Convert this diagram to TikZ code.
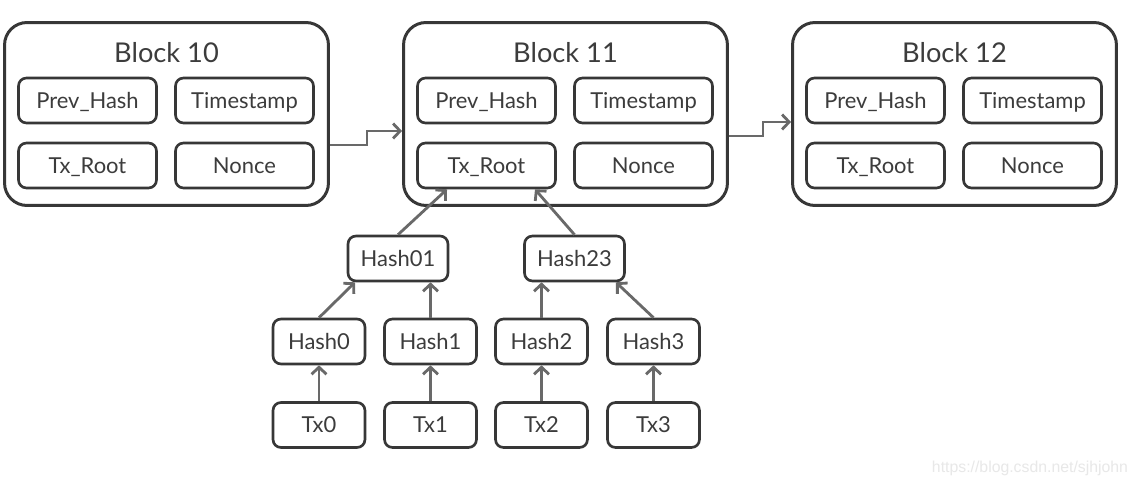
\documentclass[tikz,border=0pt]{standalone}
\usepackage{fontspec}
\setmainfont{Lato}
\newfontfamily\markfont{Liberation Sans}
\usepackage{tikz}
\usetikzlibrary{arrows.meta}
\definecolor{boxgray}{RGB}{55, 55, 55}
\definecolor{arrowgray}{RGB}{105, 105, 105}
\definecolor{textgray}{RGB}{60, 60, 60}
\definecolor{markgray}{RGB}{232, 232, 232}

\tikzset{
  blockbox/.style={draw=boxgray, line width=1.7pt, rounded corners=0.45cm, minimum width=6.48cm, minimum height=3.66cm},
  fieldbox/.style={draw=boxgray, line width=1.5pt, rounded corners=0.16cm, minimum width=2.76cm, minimum height=0.9cm, inner sep=0pt, text height=9pt, text depth=0pt, text=textgray, font=\fontsize{12.5}{14}\selectfont},
  hashbox/.style={fieldbox, minimum width=1.84cm},
  link/.style={draw=arrowgray, line width=1.6pt, -{Straight Barb[length=4pt, width=8.5pt]}}
}

\begin{document}
\begin{tikzpicture}[x=0.02cm, y=-0.02cm]
  \fill[white] (0,0) rectangle (1137,486);
  \useasboundingbox (0,0) rectangle (1137,486);
  % the chain of blocks
  \foreach \n/\x in {10/166.5, 11/565.5, 12/954.5} {
    \node[blockbox] (b\n) at (\x,114) {};
    \node[text=textgray, text height=11.2pt, text depth=0pt, inner sep=0pt, font=\fontsize{15.5}{18}\selectfont] (t\n) at (\x,53) {Block \n};
    \node[fieldbox] (prev\n) at (\x-79,100.5) {Prev\_Hash};
    \node[fieldbox] (time\n) at (\x+78,100.5) {Timestamp};
    \node[fieldbox] (root\n) at (\x-79,165.5) {Tx\_Root};
    \node[fieldbox] (nonce\n) at (\x+78,165.5) {Nonce};
  }
  \draw[link] ([yshift=-0.62cm]b10.east) -- ++(37,0) |- ([yshift=-0.34cm]b11.west);
  \draw[link] ([yshift=-0.44cm]b11.east) -- ++(34,0) |- ([yshift=-0.16cm]b12.west);
  % merkle tree
  \node[hashbox, minimum width=2cm] (h01) at (398,258.5) {Hash01};
  \node[hashbox, minimum width=2cm] (h23) at (574.5,258.5) {Hash23};
  \foreach \i/\x in {0/319, 1/430.5, 2/541.5, 3/653.5} {
    \node[hashbox] (h\i) at (\x,341.5) {Hash\i};
    \node[hashbox] (tx\i) at (\x,425) {Tx\i};
    \draw[link] (tx\i) -- (h\i);
  }
  \draw[link] (h0.north) -- ([xshift=-0.86cm]h01.south);
  \draw[link] (h1.north) -- (h1.north |- h01.south);
  \draw[link] (h2.north) -- (h2.north |- h23.south);
  \draw[link] (h3.north) -- ([xshift=0.83cm]h23.south);
  \draw[link] (h01.north) -- ([xshift=-0.79cm]root11.south);
  \draw[link] (h23.north) -- ([xshift=0.97cm]root11.south);
  \node[text=markgray, font=\markfont\fontsize{9}{10}\selectfont] (mark) at (1030,468) {https://blog.csdn.net/sjhjohn};
\end{tikzpicture}
\end{document}
